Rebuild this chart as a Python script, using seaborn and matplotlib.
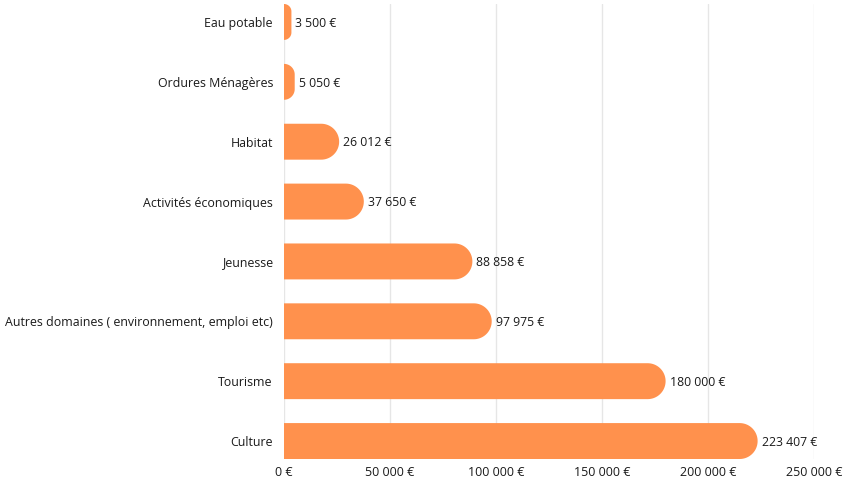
import matplotlib
matplotlib.use("Agg")
import matplotlib.pyplot as plt
import seaborn as sns
import numpy as np
import pandas as pd
from matplotlib.path import Path
from matplotlib.patches import PathPatch

categories = ["Eau potable", "Ordures Ménagères", "Habitat", "Activités économiques",
              "Jeunesse", "Autres domaines ( environnement, emploi etc)", "Tourisme", "Culture"]
values = [3500, 5050, 26012, 37650, 88858, 97975, 180000, 223407]
xticks = [0, 50000, 100000, 150000, 200000, 250000]

def fmt(v):
    return f"{v:,}".replace(",", " ") + " €"

sns.set_theme(style="white")
plt.rcParams['font.family'] = ['Open Sans', 'DejaVu Sans']

W, H = 846, 482
fig = plt.figure(figsize=(W / 100, H / 100), dpi=100)
left, right, top, bottom = 284, 814, 4, 459
ax = fig.add_axes([left / W, 1 - bottom / H, (right - left) / W, (bottom - top) / H])

df = pd.DataFrame({"cat": categories, "val": values})
color = "#FF914D"
sns.barplot(data=df, y="cat", x="val", orient="h", color=color, width=0.6,
            saturation=1, ax=ax)

ax.set_xlim(0, 250000)
ax.set_ylim(7.3, -0.3)

# rounded right ends
px_per_x = (right - left) / 250000
px_per_y = (bottom - top) / 7.6
for p in list(ax.patches):
    x0, y0, w, h = p.get_x(), p.get_y(), p.get_width(), p.get_height()
    hpx = h * px_per_y
    wpx = w * px_per_x
    rpx = min(hpx / 2, wpx)
    rx = rpx / px_per_x
    ry = rpx / px_per_y
    y1 = y0 + h
    xr = x0 + w
    verts = [(x0, y0), (xr - rx, y0)]
    for t in np.linspace(-np.pi / 2, 0, 20):
        verts.append((xr - rx + rx * np.cos(t), y0 + ry + ry * np.sin(t)))
    verts.append((xr, y1 - ry))
    for t in np.linspace(0, np.pi / 2, 20):
        verts.append((xr - rx + rx * np.cos(t), y1 - ry + ry * np.sin(t)))
    verts.append((x0, y1))
    verts.append((x0, y0))
    path = Path(verts, closed=True)
    ax.add_patch(PathPatch(path, facecolor=color, edgecolor="none", zorder=3))
    p.set_visible(False)
    ax.text(xr + 4 / px_per_x, y0 + h / 2 + 0.02, fmt(int(round(w))), va="center", ha="left",
            fontsize=8.8, color="#1a1a1a")

ax.set_xticks(xticks)
ax.set_xticklabels([fmt(v) for v in xticks], fontsize=9, color="#1a1a1a")
ax.tick_params(axis="y", labelsize=8.9, labelcolor="#1a1a1a", length=0, pad=8)
ax.tick_params(axis="x", length=0, pad=5)
ax.set_xlabel("")
ax.set_ylabel("")
ax.grid(axis="x", color="#e6e6e6", linewidth=1, zorder=0)
ax.set_axisbelow(True)
for s in ax.spines.values():
    s.set_visible(False)

fig.savefig("out.png", dpi=100)
